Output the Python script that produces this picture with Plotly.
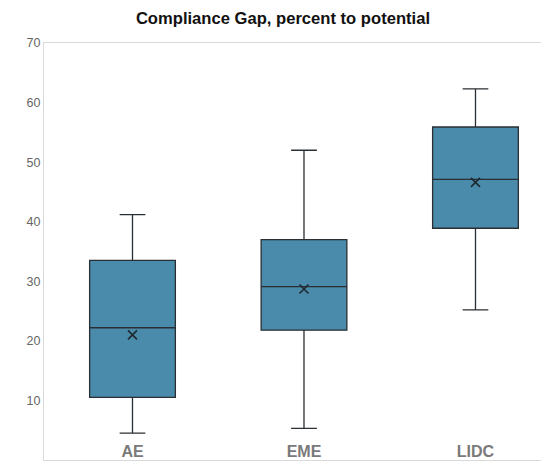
import plotly.graph_objects as go

categories = ["AE", "EME", "LIDC"]
lower_whisker = [4.5, 5.3, 25.2]
q1 = [10.5, 21.8, 38.9]
median = [22.2, 29.1, 47.1]
q3 = [33.5, 37.0, 55.9]
upper_whisker = [41.2, 52.0, 62.3]
mean = [21.0, 28.7, 46.6]
y_ticks = [0, 10, 20, 30, 40, 50, 60, 70]

fig = go.Figure()
fig.add_trace(go.Box(
    x=categories, q1=q1, median=median, q3=q3,
    lowerfence=lower_whisker, upperfence=upper_whisker,
    fillcolor="#4a8aab", line=dict(color="#2a2f33", width=1.3),
    width=0.5, whiskerwidth=0.3, boxpoints=False, showlegend=False,
    hoverinfo="skip",
))
fig.add_trace(go.Scatter(
    x=categories, y=mean, mode="markers",
    marker=dict(symbol="x-thin", size=9, line=dict(color="#1e2a30", width=1.6)),
    showlegend=False, hoverinfo="skip",
))

fig.update_layout(
    width=541, height=462,
    margin=dict(l=44, r=0, t=43, b=2),
    paper_bgcolor="white", plot_bgcolor="white",
    title=dict(text="<b>Compliance Gap, percent to potential</b>",
               x=0.523, xanchor="center", y=0.961, yanchor="middle",
               font=dict(family="Liberation Sans, Arial", size=16.6, color="#111")),
    xaxis=dict(range=[-0.516, 2.382], showgrid=False, zeroline=False,
               showline=True, linecolor="#d9d9d9", linewidth=1, mirror=True,
               ticks="", ticklabelposition="inside",
               tickfont=dict(family="Liberation Sans, Arial", size=16, color="#7a7a7a"),
               tickprefix="<b>", ticksuffix="</b>"),
    yaxis=dict(range=[0, 70], tickvals=y_ticks, showgrid=False, zeroline=False,
               showline=True, linecolor="#d9d9d9", linewidth=1,
               ticks="", ticklen=0,
               tickfont=dict(family="Liberation Sans, Arial", size=12.5, color="#666")),
)

fig.write_html("out.html")
